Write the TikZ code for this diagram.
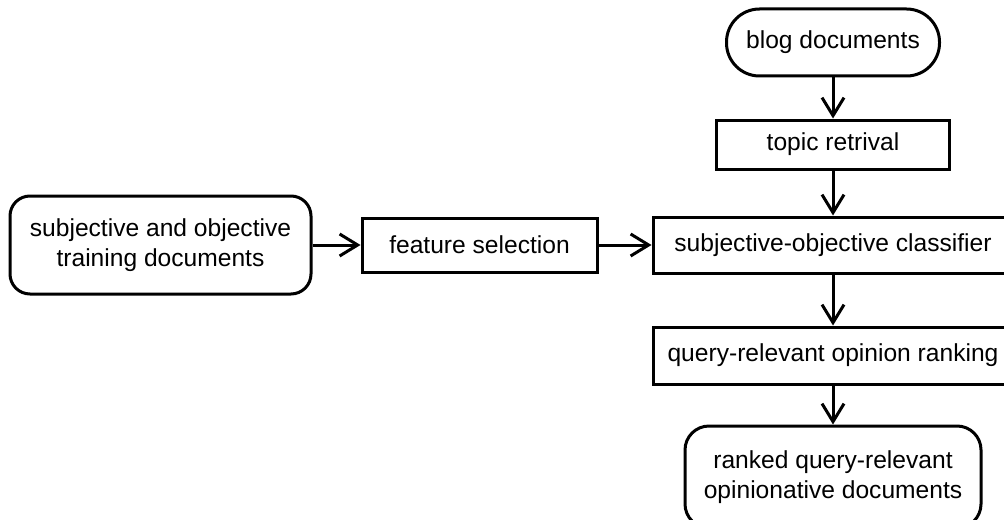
\documentclass[tikz,border=0pt]{standalone}
\usepackage{fontspec}
\setmainfont{Liberation Sans}
\usetikzlibrary{positioning,arrows.meta}

\begin{document}
\begin{tikzpicture}[x=0.5pt,y=-0.5pt]

              % Definitions
              \tikzstyle{Process} = [rectangle, line width=1.5pt, minimum height=27pt, text centered, draw=black, font=\fontsize{12.3}{15}\selectfont]
              \tikzstyle{Terminal} = [rectangle, rounded corners=10pt, line width=1.5pt, align=center, draw=black, font=\fontsize{12.3}{15}\selectfont]
              \tikzstyle{arrow} = [line width=1.5pt,->,>={Straight Barb[length=9pt,width=11pt]}]

              \useasboundingbox (0,0) rectangle (1004,519);

              \node (classifier) [Process, minimum width=180pt, minimum height=28pt] at (833,245) {subjective-objective classifier};
              \node (topic) [Process, minimum width=116.5pt, minimum height=24.5pt, above=22.5pt of classifier] {topic retrival};
              \node (blog) [Terminal, rounded corners=16.5pt, minimum width=106.5pt, minimum height=33.5pt, above=20.5pt of topic] {blog documents};
              \node (ranking) [Process, minimum width=180pt, minimum height=28.5pt, below=25.5pt of classifier] {query-relevant opinion ranking};
              \node (ranked) [Terminal, rounded corners=12pt, minimum width=148pt, minimum height=51pt, below=19.5pt of ranking] {ranked query-relevant\\opinionative documents};
              \node (feature) [Process, minimum width=117.5pt, left=26.5pt of classifier] {feature selection};
              \node (training) [Terminal, minimum width=150.5pt, minimum height=49pt, left=24pt of feature] {subjective and objective\\training documents};

              \draw [arrow] (blog) -- (topic);
              \draw [arrow] (topic) -- (classifier);
              \draw [arrow] (classifier) -- (ranking);
              \draw [arrow] (ranking) -- (ranked);
              \draw [arrow] (training) -- (feature);
              \draw [arrow] (feature) -- (classifier);

\end{tikzpicture}
\end{document}
